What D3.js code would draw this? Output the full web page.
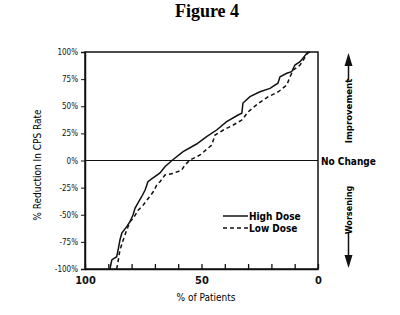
<!DOCTYPE html>
<html>
<head>
<meta charset="utf-8">
<script src="https://cdn.jsdelivr.net/npm/d3@7"></script>
<style>
  body { margin: 0; background: #fff; }
  svg { display: block; }
  .narrow { font-family: "Liberation Sans Narrow", "DejaVu Sans Condensed", "Liberation Sans", sans-serif; font-stretch: condensed; }
</style>
</head>
<body>
<div id="chart"></div>
<script>
// % of patients (x) vs % reduction in CPS rate (y)
var highDosePatients = [89.3, 88.5, 86.4, 85.8, 85.0, 84.2, 82.1, 80.7, 79.4, 78.5, 77.3, 75.7, 74.2, 73.0, 70.8, 67.8, 65.7, 62.7, 57.9, 52.1, 47.8, 43.5, 39.2, 34.3, 32.7, 32.2, 29.2, 24.9, 20.6, 17.2, 16.3, 13.4, 11.3, 9.9, 7.7, 4.8, 3.4];
var highDoseReduction = [-100, -91.7, -88.7, -82.5, -73.3, -66.8, -61.0, -56.4, -50.2, -43.8, -39.2, -33.4, -27.2, -19.5, -16.1, -11.5, -5.7, 0, 8.1, 15.2, 21.9, 28.1, 35.8, 41.9, 43.5, 53.0, 58.8, 63.4, 66.5, 71.2, 77.2, 80.4, 81.8, 88.0, 91.1, 98.8, 100];
var lowDosePatients = [86.4, 85.7, 85.0, 83.6, 82.1, 80.7, 79.3, 77.1, 75.0, 72.8, 70.7, 69.2, 67.8, 65.7, 62.1, 58.5, 57.1, 54.9, 50.6, 45.6, 44.2, 40.6, 36.4, 32.7, 29.9, 25.6, 21.3, 17.0, 13.4, 12.0, 10.6, 7.7, 6.3, 4.2];
var lowDoseReduction = [-100, -91.7, -82.5, -73.3, -64.1, -56.4, -53.3, -45.6, -41.0, -34.8, -28.8, -22.6, -19.5, -13.4, -11.8, -8.8, -4.1, 0.5, 5.1, 14.3, 23.5, 28.1, 32.7, 37.3, 45.0, 52.7, 58.8, 63.4, 69.6, 77.2, 83.4, 88.0, 92.6, 100];
var yTicks = [100, 75, 50, 25, 0, -25, -50, -75, -100];
var xTicks = [100, 90, 80, 70, 60, 50, 40, 30, 20, 10, 0];
var xLabelled = [100, 50, 0];

var svgWidth = 400, svgHeight = 315;
var plotLeft = 85, plotRight = 318, plotTop = 52, plotBottom = 269;

var svg = d3.select("#chart").append("svg")
    .attr("width", svgWidth)
    .attr("height", svgHeight);

var x = d3.scaleLinear().domain([100, 0]).range([plotLeft, plotRight]);
var y = d3.scaleLinear().domain([-100, 100]).range([plotBottom, plotTop]);

// title
svg.append("text")
    .attr("x", 207).attr("y", 17)
    .attr("text-anchor", "middle")
    .style("font-family", "'Liberation Serif', 'DejaVu Serif', serif")
    .style("font-weight", "bold")
    .style("font-size", "18px")
    .text("Figure 4");

// frame
svg.append("rect")
    .attr("x", plotLeft).attr("y", plotTop)
    .attr("width", plotRight - plotLeft).attr("height", plotBottom - plotTop)
    .attr("fill", "none")
    .attr("stroke", "#111")
    .attr("stroke-width", 1.5);

// no change line
svg.append("line")
    .attr("x1", plotLeft).attr("x2", plotRight)
    .attr("y1", y(0)).attr("y2", y(0))
    .attr("stroke", "#111").attr("stroke-width", 1.2);

// y axis
var yAxis = svg.append("g")
    .attr("transform", `translate(${plotLeft},0)`)
    .call(d3.axisLeft(y).tickValues(yTicks).tickSize(4).tickPadding(3)
        .tickFormat(function (d) { return d + "%"; }));
yAxis.select(".domain").attr("stroke", "#111").attr("stroke-width", 1.5);
yAxis.selectAll("line").attr("stroke", "#111");
yAxis.selectAll("text")
    .attr("class", "narrow")
    .style("font-size", "8px")
    .attr("fill", "#111");

// x axis, ticks pointing inward
var xAxis = svg.append("g")
    .attr("transform", `translate(0,${plotBottom})`)
    .call(d3.axisBottom(x).tickValues(xTicks).tickSizeInner(-5).tickSizeOuter(0).tickPadding(7)
        .tickFormat(function (d) { return xLabelled.indexOf(d) >= 0 ? d : ""; }));
xAxis.select(".domain").attr("stroke", "#111").attr("stroke-width", 1.5);
xAxis.selectAll("line").attr("stroke", "#111").attr("stroke-width", 1.3);
xAxis.selectAll("text")
    .attr("class", "narrow")
    .style("font-size", "11px")
    .style("font-weight", "bold")
    .attr("fill", "#111");

// axis titles
svg.append("text")
    .attr("class", "narrow")
    .attr("x", 206).attr("y", 301)
    .attr("text-anchor", "middle")
    .style("font-size", "10px")
    .text("% of Patients");

svg.append("text")
    .attr("class", "narrow")
    .attr("transform", "translate(41,165) rotate(-90)")
    .attr("text-anchor", "middle")
    .style("font-size", "10px")
    .text("% Reduction In CPS Rate");

// right-hand annotations
svg.append("text")
    .attr("class", "narrow")
    .attr("x", 321).attr("y", y(0) + 4)
    .style("font-size", "10px")
    .style("font-weight", "bold")
    .text("No Change");

svg.append("text")
    .attr("class", "narrow")
    .attr("transform", "translate(352,111) rotate(-90)")
    .attr("text-anchor", "middle")
    .style("font-size", "9.5px")
    .style("font-weight", "bold")
    .text("Improvement");

svg.append("text")
    .attr("class", "narrow")
    .attr("transform", "translate(352,210) rotate(-90)")
    .attr("text-anchor", "middle")
    .style("font-size", "9px")
    .style("font-weight", "bold")
    .text("Worsening");

var arrowX = 348.5;
svg.append("line")
    .attr("x1", arrowX).attr("x2", arrowX).attr("y1", 80).attr("y2", 64)
    .attr("stroke", "#111").attr("stroke-width", 1.5);
svg.append("path")
    .attr("d", `M${arrowX},53 L${arrowX - 4},66 L${arrowX + 4},66 Z`)
    .attr("fill", "#111");
svg.append("line")
    .attr("x1", arrowX).attr("x2", arrowX).attr("y1", 233).attr("y2", 256)
    .attr("stroke", "#111").attr("stroke-width", 1.5);
svg.append("path")
    .attr("d", `M${arrowX},268 L${arrowX - 4},255 L${arrowX + 4},255 Z`)
    .attr("fill", "#111");

// curves
var line = d3.line()
    .x(function (d) { return x(d[0]); })
    .y(function (d) { return y(d[1]); });

var highData = d3.zip(highDosePatients, highDoseReduction);
var lowData = d3.zip(lowDosePatients, lowDoseReduction);

svg.append("path")
    .datum(lowData)
    .attr("d", line)
    .attr("fill", "none")
    .attr("stroke", "#111")
    .attr("stroke-width", 1.5)
    .attr("stroke-dasharray", "4,3");

svg.append("path")
    .datum(highData)
    .attr("d", line)
    .attr("fill", "none")
    .attr("stroke", "#111")
    .attr("stroke-width", 1.5);

// legend
var legend = svg.append("g");
legend.append("line")
    .attr("x1", 223).attr("x2", 248).attr("y1", 216).attr("y2", 216)
    .attr("stroke", "#111").attr("stroke-width", 1.5);
legend.append("line")
    .attr("x1", 223).attr("x2", 248).attr("y1", 228).attr("y2", 228)
    .attr("stroke", "#111").attr("stroke-width", 1.5)
    .attr("stroke-dasharray", "4,3");
legend.append("text")
    .attr("class", "narrow")
    .attr("x", 249).attr("y", 220)
    .style("font-size", "10px")
    .style("font-weight", "bold")
    .text("High Dose");
legend.append("text")
    .attr("class", "narrow")
    .attr("x", 249).attr("y", 232)
    .style("font-size", "10px")
    .style("font-weight", "bold")
    .text("Low Dose");
</script>
</body>
</html>
